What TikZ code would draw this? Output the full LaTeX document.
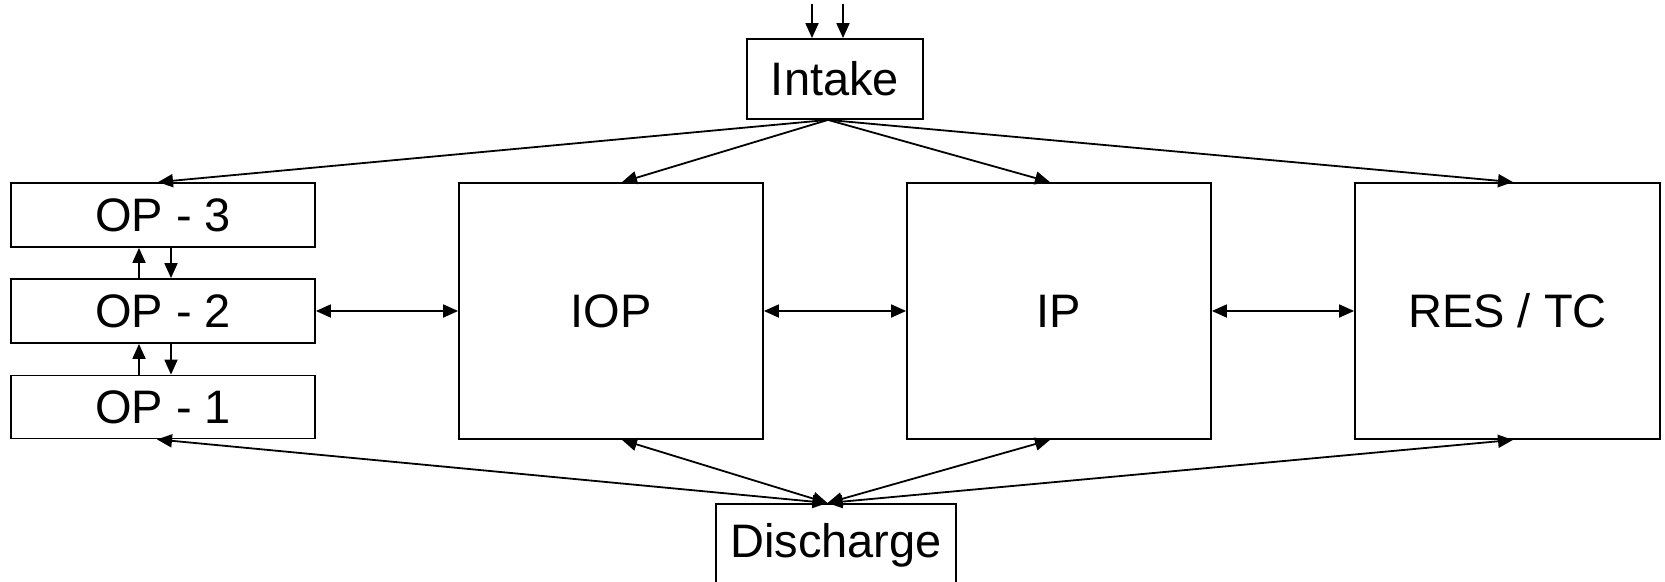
\documentclass[tikz,border=0pt]{standalone}
\usepackage{fontspec}
\setmainfont{Liberation Sans}
\usetikzlibrary{arrows.meta,calc}
\tikzset{
  box/.style={draw, line width=1.8pt, inner sep=0pt, font=\fontsize{47}{56}\selectfont},
  arr/.style={line width=1.8pt, -{Triangle[length=15pt,width=13pt]}},
  darr/.style={line width=1.8pt, {Triangle[length=15pt,width=13pt]}-{Triangle[length=15pt,width=13pt]}},
}
\begin{document}
\begin{tikzpicture}[x=1pt,y=-1pt]
\useasboundingbox (0,0) rectangle (1665,581);
% nodes
\node[box, minimum width=176, minimum height=80] (intake) at (835,79) {Intake};
\node[box, minimum width=304, minimum height=64] (op3) at (163,215) {OP - 3};
\node[box, minimum width=304, minimum height=64] (op2) at (163,311) {OP - 2};
\node[box, minimum width=304, minimum height=63] (op1) at (163,407) {OP - 1};
\node[box, minimum width=304, minimum height=256] (iop) at (611,311) {IOP};
\node[box, minimum width=304, minimum height=256] (ip) at (1059,311) {IP};
\node[box, minimum width=305, minimum height=256] (res) at (1507.5,311) {RES / TC};
\node[box, minimum width=240, minimum height=110, anchor=north] (discharge) at (836,503) {};
\node[font=\fontsize{47}{56}\selectfont, inner sep=0pt, anchor=base] (dischargelabel) at (836,557) {Discharge};
% inputs
\coordinate (in1) at (812,4);
\coordinate (in2) at (843,4);
\draw[arr] (in1) -- (in1 |- intake.north);
\draw[arr] (in2) -- (in2 |- intake.north);
% intake fan
\coordinate (ib) at ($(intake.south)+(-7,0)$);
\draw[arr] (ib) -- ($(op3.north)+(-5,0)$);
\draw[arr] (ib) -- ($(iop.north)+(11,0)$);
\draw[arr] (ib) -- ($(ip.north)+(-9,0)$);
\draw[arr] (ib) -- ($(res.north)+(5.5,0)$);
% discharge fan
\coordinate (dt) at ($(discharge.north)+(-8.5,0)$);
\draw[darr] ($(op1.south)+(-6,0)$) -- (dt);
\draw[darr] ($(iop.south)+(11,0)$) -- (dt);
\draw[darr] ($(ip.south)+(-9,0)$) -- (dt);
\draw[darr] ($(res.south)+(5.5,0)$) -- (dt);
% horizontal links
\draw[darr] (op2.east) -- (iop.west);
\draw[darr] (iop.east) -- (ip.west);
\draw[darr] (ip.east) -- (res.west);
% OP stack
\draw[arr] ($(op2.north)+(-24,0)$) -- ($(op3.south)+(-24,0)$);
\draw[arr] ($(op3.south)+(8,0)$) -- ($(op2.north)+(8,0)$);
\draw[arr] ($(op1.north)+(-24,0)$) -- ($(op2.south)+(-24,0)$);
\draw[arr] ($(op2.south)+(8,0)$) -- ($(op1.north)+(8,0)$);
\end{tikzpicture}
\end{document}
